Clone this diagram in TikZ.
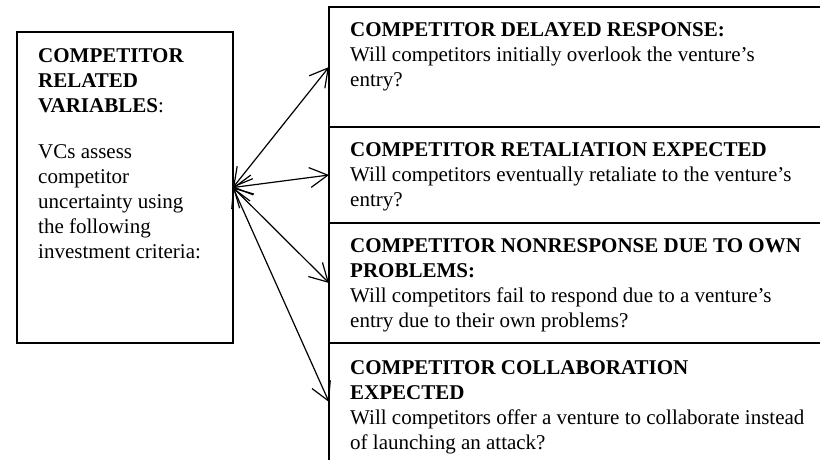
\documentclass[tikz,border=0pt]{standalone}
\usepackage{fontspec}
\setmainfont{Liberation Serif}
\usetikzlibrary{positioning,arrows.meta}

\tikzset{
  varbox/.style={draw, line width=2pt, outer sep=0pt, inner sep=0pt},
  critbox/.style={varbox, minimum width=540pt},
  boxtext/.style={anchor=north west, inner sep=0pt, align=left, font=\fontsize{21}{25}\selectfont},
  link/.style={{Straight Barb[length=18pt,width=20pt]}-{Straight Barb[length=18pt,width=20pt]}, line width=1.2pt}
}

\begin{document}
\begin{tikzpicture}[x=1pt,y=1pt]
  \useasboundingbox (0,0) rectangle (820,459);
  \clip (0,0) rectangle (820,459);
  % left box
  \node[varbox, minimum width=216pt, minimum height=311pt] (vars) at (125,271.5) {};
  \node[boxtext] (varsT) at ([xshift=21pt,yshift=-16pt]vars.north west)
    {\textbf{COMPETITOR}\\ \textbf{RELATED}\\ \textbf{VARIABLES}:\\[21pt]
     VCs assess\\ competitor\\ uncertainty using\\ the following\\ investment criteria:};
  % right column
  \node[critbox, minimum height=120pt] (delay) at (599,392) {};
  \node[critbox, minimum height=96pt, below=0pt of delay] (retal) {};
  \node[critbox, minimum height=120pt, below=0pt of retal] (nonresp) {};
  \node[critbox, minimum height=118pt, below=0pt of nonresp] (collab) {};
  \node[boxtext] (delayT) at ([xshift=21pt,yshift=-15pt]delay.north west)
    {\textbf{COMPETITOR DELAYED RESPONSE:}\\ Will competitors initially overlook the venture's\\ entry?};
  \node[boxtext] (retalT) at ([xshift=21pt,yshift=-15pt]retal.north west)
    {\textbf{COMPETITOR RETALIATION EXPECTED}\\ Will competitors eventually retaliate to the venture's\\ entry?};
  \node[boxtext] (nonrespT) at ([xshift=21pt,yshift=-15pt]nonresp.north west)
    {\textbf{COMPETITOR NONRESPONSE DUE TO OWN}\\ \textbf{PROBLEMS:}\\ Will competitors fail to respond due to a venture's\\ entry due to their own problems?};
  \node[boxtext] (collabT) at ([xshift=21pt,yshift=-17pt]collab.north west)
    {\textbf{COMPETITOR COLLABORATION}\\ \textbf{EXPECTED}\\ Will competitors offer a venture to collaborate instead\\ of launching an attack?};
  \foreach \b in {delay,retal,nonresp,collab}
    \draw[link] (vars.east) -- (\b.west);
\end{tikzpicture}
\end{document}
